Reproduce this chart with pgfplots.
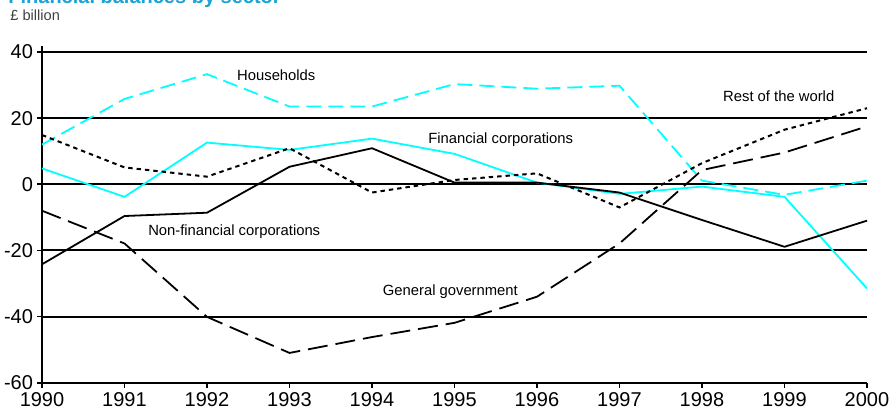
\documentclass[border=0pt]{standalone}
\usepackage{pgfplots}
\pgfplotsset{compat=1.18}
\usepackage{fontspec}
\setmainfont{Liberation Sans}
\definecolor{titlecol}{RGB}{27,163,214}
\definecolor{cy}{RGB}{0,255,255}
\begin{document}
\begin{tikzpicture}
\begin{axis}[
  at={(21bp,15.15bp)}, anchor=south west,
  scale only axis, width=412.5bp, height=165.35bp,
  xmin=1990, xmax=2000, ymin=-60, ymax=40,
  xtick={1990,...,2000}, ytick={-60,-40,...,40},
  axis x line*=bottom, axis y line*=left,
  x axis line style={line width=1.2bp},
  y axis line style={line width=1bp, shorten >=-3bp},
  ymajorgrids, grid style={black, line width=1bp},
  tick align=outside, major tick length=2.5bp,
  tick style={black, line width=0.8bp},
  /pgf/number format/assume math mode=true,
  /pgf/number format/1000 sep={},
  ticklabel style={font=\fontsize{10bp}{12bp}\selectfont},
  xticklabel style={yshift=1bp},
  yticklabel style={xshift=1.5bp},
  clip=false,
]
\addplot[cy, line width=0.9bp, dash pattern=on 7.5bp off 3.5bp] coordinates {
(1990,12) (1991,25.8) (1992,33.3) (1993,23.5) (1994,23.5) (1995,30.3) (1996,28.9) (1997,29.8) (1998,1.1) (1999,-3.2) (2000,1.1)};
\addplot[cy, line width=0.9bp] coordinates {
(1990,4.8) (1991,-3.8) (1992,12.6) (1993,10.4) (1994,13.8) (1995,9.2) (1996,0.5) (1997,-2.9) (1998,-0.7) (1999,-3.8) (2000,-31.5)};
\addplot[black, line width=0.9bp] coordinates {
(1990,-24.2) (1991,-9.6) (1992,-8.6) (1993,5.3) (1994,10.9) (1995,0.5) (1996,0.5) (1997,-2.5) (1998,-10.8) (1999,-18.9) (2000,-11)};
\addplot[black, line width=0.9bp, dash pattern=on 10bp off 4bp] coordinates {
(1990,-8) (1991,-17.9) (1992,-40.1) (1993,-51) (1994,-46.2) (1995,-41.9) (1996,-34) (1997,-17.9) (1998,4.3) (1999,9.6) (2000,17.5)};
\addplot[black, line width=1bp, dash pattern=on 2.2bp off 2bp] coordinates {
(1990,14.9) (1991,5.1) (1992,2.3) (1993,10.9) (1994,-2.5) (1995,1.3) (1996,3.3) (1997,-7) (1998,6.4) (1999,16.5) (2000,23)};
\begin{scope}[every node/.style={font=\fontsize{7.4bp}{9bp}\selectfont, inner sep=0pt}]
\node at (axis cs:1992.84,33.1) {Households};
\node at (axis cs:1998.93,26.5) {Rest of the world};
\node at (axis cs:1995.56,13.4) {Financial corporations};
\node at (axis cs:1992.33,-14.4) {Non-financial corporations};
\node at (axis cs:1994.95,-32.6) {General government};
\end{scope}
\end{axis}
\node[anchor=base west, inner sep=0pt, text=titlecol, font=\fontsize{10bp}{12bp}\selectfont\bfseries] at (4bp,204.5bp) {Financial balances by sector};
\node[anchor=base west, inner sep=0pt, text=black!75, font=\fontsize{7.3bp}{9bp}\selectfont] at (5bp,196.3bp) {£ billion};
\pgfresetboundingbox
\useasboundingbox (0,0) rectangle (447bp,206.5bp);
\end{tikzpicture}
\end{document}
